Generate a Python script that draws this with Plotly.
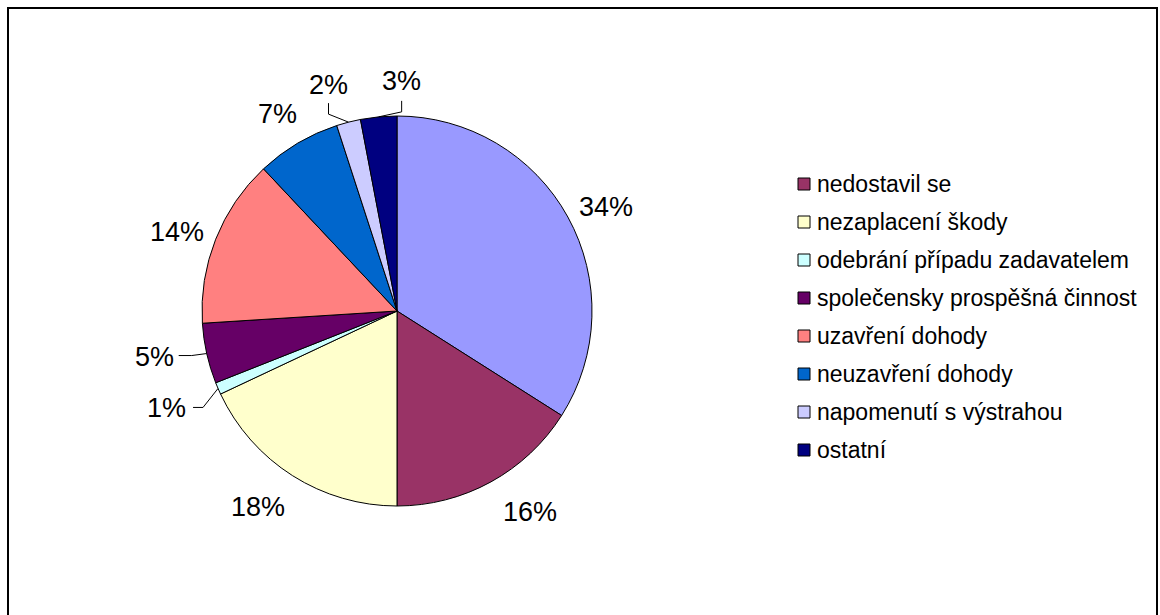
import math
import plotly.graph_objects as go

W, H = 1160, 615

# ---- data ----
categories = ["", "nedostavil se", "nezaplacení škody", "odebrání případu zadavatelem",
              "společensky prospěšná činnost", "uzavření dohody", "neuzavření dohody",
              "napomenutí s výstrahou", "ostatní"]
values = [34, 16, 18, 1, 5, 14, 7, 2, 3]
colors = ["#9999FF", "#993366", "#FFFFCC", "#CCFFFF", "#660066",
          "#FF8080", "#0066CC", "#CCCCFF", "#000080"]
legend_categories = categories[1:]
legend_colors = colors[1:]

# ---- layout constants (screen pixels) ----
CX, CY, R = 397, 311, 195
GAP = 10
FONT = "Arial, Liberation Sans, sans-serif"


def px(x):
    return x / W


def py(y):
    return 1 - y / H


fig = go.Figure()
fig.add_trace(go.Pie(
    labels=[c if c else " " for c in categories], values=values, sort=False,
    direction="clockwise", rotation=0,
    marker=dict(colors=colors, line=dict(color="black", width=1)),
    textinfo="none", hoverinfo="label+percent",
    domain=dict(x=[px(CX - R), px(CX + R)], y=[py(CY + R), py(CY - R)]),
    showlegend=False,
))

# leader-line labels: elbow offset from slice edge, end offset from elbow
leaders = {
    3: dict(elbow=(-15, 19), end=(-10, 0), xa="right", ya="middle", tp=(-5, 1)),
    4: dict(elbow=(-15, 2), end=(-13, 0), xa="right", ya="middle", tp=(-3, 1)),
    7: dict(elbow=(-20, -8), end=(0, -11), xa="center", ya="bottom", tp=(0, -1)),
    8: dict(elbow=(23, -5), end=(0, -11), xa="center", ya="bottom", tp=(0, -3)),
}
# small nudges for the plain outside labels
nudges = {0: (0, -5), 1: (5, 4), 2: (0, 6), 5: (0, -4), 6: (6, -4)}

total = sum(values)
cum = 0
annotations = []
shapes = []
for i, v in enumerate(values):
    mid = (cum + v / 2) / total * 2 * math.pi
    cum += v
    s, c = math.sin(mid), math.cos(mid)
    text = f"{round(v / total * 100)}%"
    if i in leaders:
        L = leaders[i]
        ex, ey = CX + R * s, CY - R * c
        bx, by = ex + L["elbow"][0], ey + L["elbow"][1]
        tx, ty = bx + L["end"][0], by + L["end"][1]
        shapes.append(dict(type="path", xref="paper", yref="paper",
                           path=f"M {px(ex)} {py(ey)} L {px(bx)} {py(by)} L {px(tx)} {py(ty)}",
                           line=dict(color="black", width=1)))
        ax, ay = tx + L["tp"][0], ty + L["tp"][1]
        xa, ya = L["xa"], L["ya"]
    else:
        dx, dy = nudges.get(i, (0, 0))
        ax, ay = CX + (R + GAP) * s + dx, CY - (R + GAP) * c + dy
        xa = "left" if s > 0 else "right"
        ya = "top" if c < -0.6 else ("bottom" if c > 0.6 else "middle")
    annotations.append(dict(x=px(ax), y=py(ay), xref="paper", yref="paper",
                            text=text, showarrow=False, xanchor=xa, yanchor=ya,
                            font=dict(family=FONT, size=27, color="black")))

# manual legend (the first slice has no legend entry)
for j, (name, col) in enumerate(zip(legend_categories, legend_colors)):
    yc = 184 + 38 * j
    shapes.append(dict(type="rect", xref="paper", yref="paper",
                       x0=px(798), x1=px(810), y0=py(yc - 6), y1=py(yc + 6),
                       fillcolor=col, line=dict(color="black", width=1)))
    annotations.append(dict(x=px(815), y=py(yc), xref="paper", yref="paper",
                            text=name, showarrow=False, xanchor="left", yanchor="middle",
                            font=dict(family=FONT, size=23, color="black")))

# outer chart border
shapes.append(dict(type="rect", xref="paper", yref="paper",
                   x0=px(8), x1=px(1157), y0=py(640), y1=py(8),
                   line=dict(color="black", width=2), fillcolor="rgba(0,0,0,0)"))

fig.update_layout(
    width=W, height=H, margin=dict(l=0, r=0, t=0, b=0),
    paper_bgcolor="white", plot_bgcolor="white",
    annotations=annotations, shapes=shapes, showlegend=False,
)

fig.write_html("out.html", config={"displayModeBar": False},
               post_script="document.body.style.margin='0';document.body.style.overflow='hidden';")
